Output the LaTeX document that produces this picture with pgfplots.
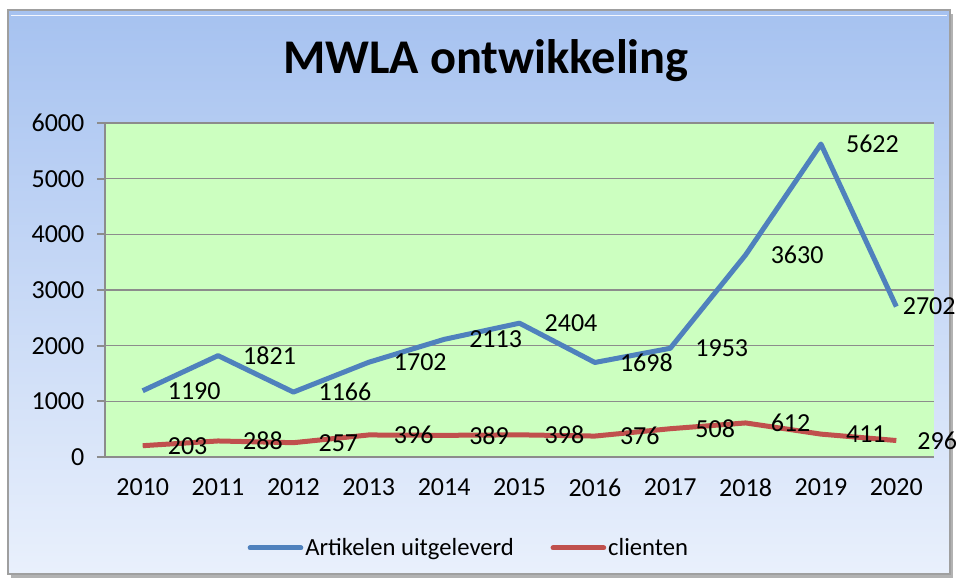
\documentclass[border=0pt]{standalone}
\usepackage{pgfplots}
\pgfplotsset{compat=1.18}
\usepackage{pgfplotstable}
\usepackage{fontspec}
\setmainfont{Carlito}

\definecolor{bgtop}{HTML}{A6C2F0}
\definecolor{bgbot}{HTML}{E9F0FC}
\definecolor{plotbg}{HTML}{CCFFC0}
\definecolor{gridgray}{HTML}{8C8C8C}
\definecolor{artblue}{HTML}{4F81BD}
\definecolor{clired}{HTML}{C0504D}

% year index, Artikelen uitgeleverd, clienten, label shifts (pt)
\pgfplotstableread{
x  art   cli  sa  sc
0  1190  203  16  16
1  1821  288  16  16
2  1166  257  16  16
3  1702  396  16  16
4  2113  389  16  16
5  2404  398  16  16
6  1698  376  16  16
7  1953  508  16  16
8  3630  612  16  16
9  5622  411  16  16
10 2702  296  2   13
}\mwla

\begin{document}
\begin{tikzpicture}
\useasboundingbox (0,0) rectangle (719.25pt,435.75pt);
\fill[white] (0,0) rectangle (719.25pt,435.75pt);
% chart area with gradient and bevelled frame
\fill[gray!60] (8pt,2.5pt) rectangle (715pt,425.5pt);
\shade[top color=bgtop, bottom color=bgbot] (6pt,5.25pt) rectangle (712.5pt,428.25pt);
\draw[gray!75, line width=1.8pt] (6pt,5.25pt) rectangle (712.5pt,428.25pt);
\draw[white!85!bgtop, line width=1.2pt] (8pt,424pt) -- (710.5pt,424pt);

\node[font=\fontsize{36.3pt}{42pt}\selectfont\bfseries] at (364.5pt,390pt) {MWLA ontwikkeling};

\begin{axis}[
    at={(78.75pt,93pt)}, anchor=south west,
    scale only axis,
    width=621.75pt, height=250.5pt,
    xmin=-0.5, xmax=10.5,
    ymin=0, ymax=6000,
    axis lines*=left,
    axis line style={gridgray, line width=1.5pt},
    axis background/.style={fill=plotbg},
    ymajorgrids,
    grid style={gridgray, line width=1.2pt},
    ytick={0,1000,...,6000},
    xtick={0,...,10},
    xticklabels={2010,2011,2012,2013,2014,2015,2016,2017,2018,2019,2020},
    minor xtick={-0.5,0.5,...,10.5},
    tick align=outside,
    major tick length=6pt,
    minor tick length=6pt,
    xtick style={draw=none},
    ytick style={gridgray, line width=1.5pt},
    minor tick style={gridgray, line width=1.5pt},
    tick label style={font=\fontsize{19.5pt}{23pt}\selectfont},
    /pgf/number format/assume math mode=true,
    /pgf/number format/1000 sep={},
    xticklabel style={yshift=-7pt},
    yticklabel style={xshift=-6pt},
    clip=false,
    legend columns=2,
    legend style={at={(0.439,-0.272)}, anchor=center, draw=none, fill=none,
        font=\fontsize{18.5pt}{22pt}\selectfont,
        nodes={inner sep=1.5pt},
        /tikz/every even column/.append style={column sep=26pt}},
    legend image code/.code={\draw[#1, line cap=round] (0pt,0pt) -- (38pt,0pt);},
    nodes near coords,
    point meta=explicit symbolic,
    every node near coord/.append style={font=\fontsize{19.5pt}{23pt}\selectfont, text=black, anchor=west, inner sep=1pt},
]
\addplot[artblue, line width=3.75pt, line join=round,
    visualization depends on={\thisrow{sa} \as \sh},
    every node near coord/.append style={xshift=\sh pt}]
    table[x=x, y=art, meta=art] {\mwla};
\addlegendentry{Artikelen uitgeleverd}
\addplot[clired, line width=3.75pt, line join=round,
    visualization depends on={\thisrow{sc} \as \sh},
    every node near coord/.append style={xshift=\sh pt}]
    table[x=x, y=cli, meta=cli] {\mwla};
\addlegendentry{clienten}
\end{axis}
\end{tikzpicture}
\end{document}
